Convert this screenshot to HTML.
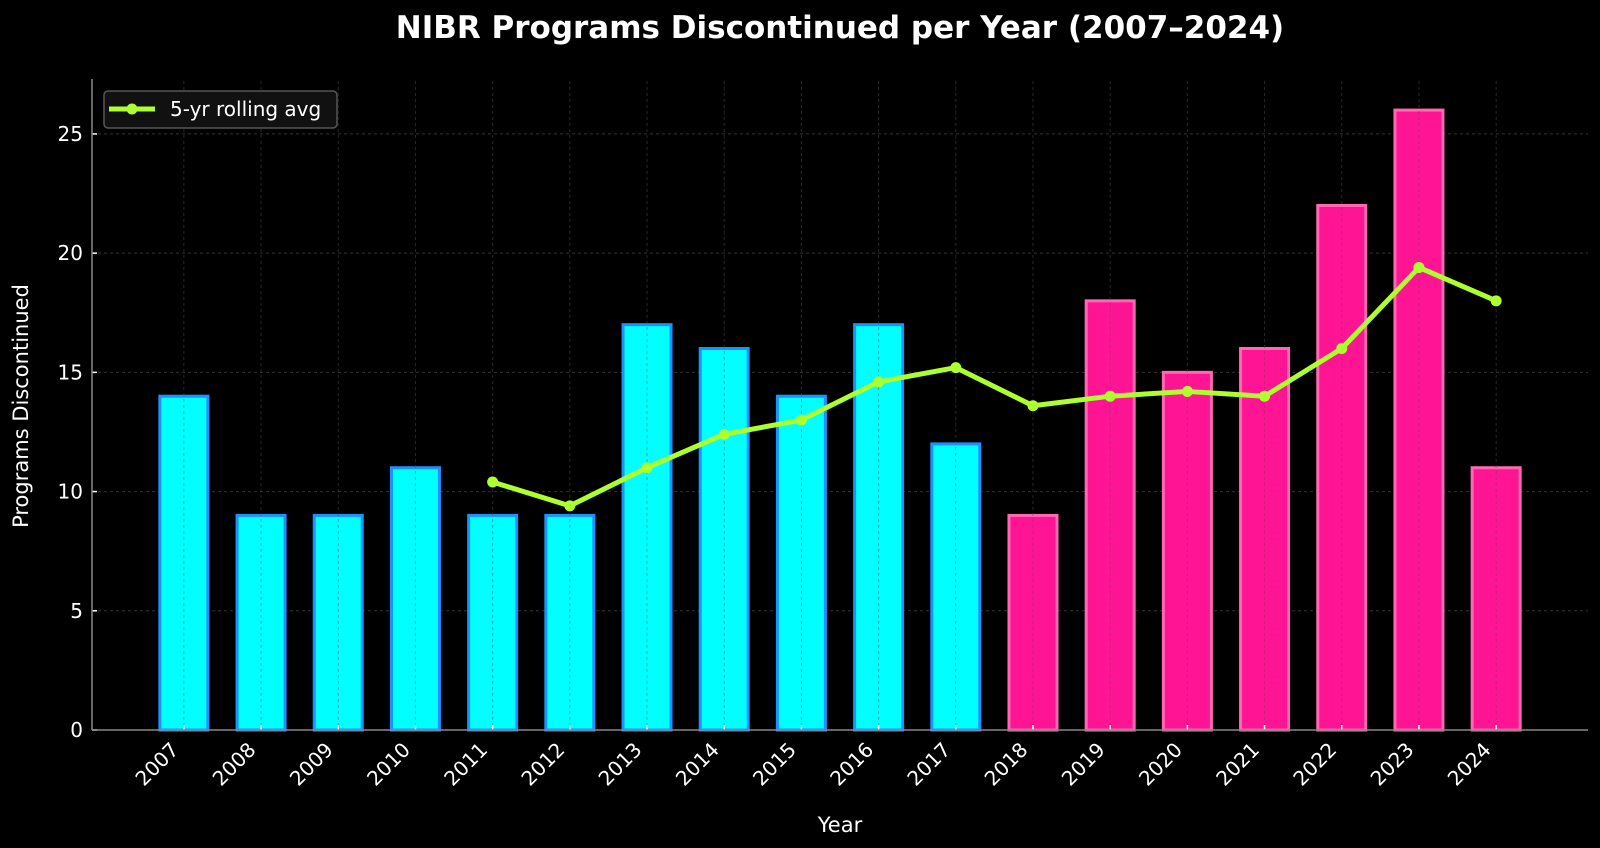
<!DOCTYPE html>
<html><head><meta charset="utf-8"><style>
html,body{margin:0;padding:0;background:#000;}
svg{display:block;font-family:"DejaVu Sans","Liberation Sans",sans-serif;}
</style></head><body>
<svg id="chart" width="1600" height="848" viewBox="0 0 1600 848">
<rect width="1600" height="848" fill="#000"/>
<text x="840" y="38" text-anchor="middle" fill="#fff" font-size="31" font-weight="bold">NIBR Programs Discontinued per Year (2007–2024)</text>
<g id="grid"></g><g id="bars"></g><g id="gridv"></g><g id="line"></g><g id="axes"></g>
<text x="840" y="832" text-anchor="middle" fill="#fff" font-size="21">Year</text>
<text transform="translate(28,406) rotate(-90)" text-anchor="middle" fill="#fff" font-size="21">Programs Discontinued</text>
<g>
<rect x="104" y="91" width="233" height="37" rx="4" fill="#111" stroke="#555" stroke-width="1.5"/>
<line x1="109" y1="109" x2="155" y2="109" stroke="#adff2f" stroke-width="5"/>
<circle cx="132" cy="109" r="5.5" fill="#adff2f"/>
<text x="170" y="116" fill="#fff" font-size="20">5-yr rolling avg</text>
</g>
</svg>
<script>
const years=["2007","2008","2009","2010","2011","2012","2013","2014","2015","2016","2017","2018","2019","2020","2021","2022","2023","2024"];
const counts=[14,9,9,11,9,9,17,16,14,17,12,9,18,15,16,22,26,11];
const rollingAvg=[null,null,null,null,10.4,9.4,11,12.4,13,14.6,15.2,13.6,14,14.2,14,16,19.4,18];
const yTicks=[0,5,10,15,20,25];
const splitYear=2018;
const NS="http://www.w3.org/2000/svg";
const X0=92,X1=1588,Y0=730,Ytop=81;
const xmin=-1.19,xmax=18.19,ymin=0,ymax=27.22;
const xs=i=>X0+(i-xmin)/(xmax-xmin)*(X1-X0);
const ys=v=>Y0-(v-ymin)/(ymax-ymin)*(Y0-Ytop);
function mk(tag,attrs,parent){const e=document.createElementNS(NS,tag);for(const k in attrs)e.setAttribute(k,attrs[k]);parent.appendChild(e);return e;}
const grid=document.getElementById('grid'),gridv=document.getElementById('gridv'),bars=document.getElementById('bars'),line=document.getElementById('line'),axes=document.getElementById('axes');
yTicks.forEach(t=>{
 const g=mk('line',{x1:X0,x2:X1,y1:ys(t),y2:ys(t),stroke:'#333','stroke-width':1,'stroke-dasharray':'3,3'},grid);
 
 
 const tk=mk('line',{x1:X0,x2:X0+5,y1:ys(t),y2:ys(t),stroke:'#fff','stroke-width':1.5},axes);
 
 
 const tx=mk('text',{x:X0-9,y:ys(t)+7,'text-anchor':'end',fill:'#fff','font-size':20},axes);
 tx.textContent=t;
 
 
});
const bw=48/((X1-X0)/(xmax-xmin));
years.forEach((y,i)=>{
 const late=+y>=splitYear;
 const r=mk('rect',{x:xs(i-bw/2),y:ys(counts[i]),width:xs(bw)-xs(0),height:ys(0)-ys(counts[i]),fill:late?'#ff1493':'#00ffff',stroke:late?'#ff69b4':'#1e90ff','stroke-width':3},bars);
 
 
 const g=mk('line',{x1:xs(i),x2:xs(i),y1:Ytop,y2:Y0,stroke:'rgba(80,80,80,0.5)','stroke-width':1,'stroke-dasharray':'3,3'},gridv);
 
 
 const tk=mk('line',{x1:xs(i),x2:xs(i),y1:Y0,y2:Y0-5,stroke:'#fff','stroke-width':1.5},axes);
 
 
 const tx=mk('text',{x:0,y:0,'text-anchor':'end',fill:'#fff','font-size':20,transform:`translate(${xs(i)-4},${Y0+21}) rotate(-45)`},axes);
 tx.textContent=y;
 
 
});
const pts=[];rollingAvg.forEach((v,i)=>{if(v!==null)pts.push([xs(i),ys(v)]);});
const pl=mk('polyline',{points:pts.map(p=>p.join(',')).join(' '),fill:'none',stroke:'#adff2f','stroke-width':5,'stroke-linejoin':'round'},line);


pts.forEach(p=>{
 const c=mk('circle',{cx:p[0],cy:p[1],r:5.5,fill:'#adff2f'},line);
 
 
});
const sp1=mk('line',{x1:X0,x2:X0,y1:Ytop-2,y2:Y0,stroke:'#888','stroke-width':1.5},axes);


const sp2=mk('line',{x1:X0,x2:X1,y1:Y0,y2:Y0,stroke:'#888','stroke-width':1.5},axes);


</script>
</body></html>
